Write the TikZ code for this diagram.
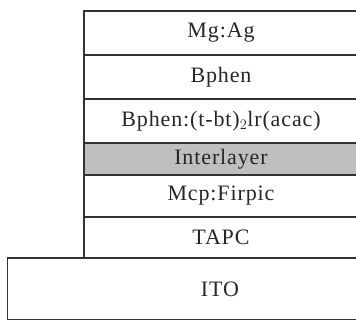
\documentclass[tikz,border=0pt]{standalone}
\usepackage{fontspec}
\setmainfont[LetterSpace=4]{Liberation Serif}
\tikzset{
  layer/.style={draw=black!80,line width=1.5pt},
  inter/.style={layer,fill=black!25},
  lbl/.style={font=\fontsize{22}{25}\selectfont,text=black!85}
}
\begin{document}
\begin{tikzpicture}[x=1pt,y=1pt]
            \useasboundingbox (0,0) rectangle (356,320);
            \clip (0,0) rectangle (356,320);

            \draw [layer] (7.5,0) rectangle (440,62);
            \draw [layer] (84,62) rectangle (358,103)node[midway,lbl](tapc){TAPC};
            \draw [layer] (84,103) rectangle (358,145)node[midway,lbl](mcp){Mcp:Firpic};
            \draw [inter] (84,145) rectangle (358,177)node[midway,lbl](inl){Interlayer};
            \draw [layer] (84,177) rectangle (358,221)node[midway,lbl](emit){Bphen:(t-bt)$_2$lr(acac)};
            \draw [layer] (84,221) rectangle (358,265)node[midway,lbl](bphen){Bphen};
            \draw [layer] (84,265) rectangle (358,309)node[midway,lbl](cath){Mg:Ag};

            \node [lbl] (ito) at (220,31) {ITO};
        \end{tikzpicture}
\end{document}
